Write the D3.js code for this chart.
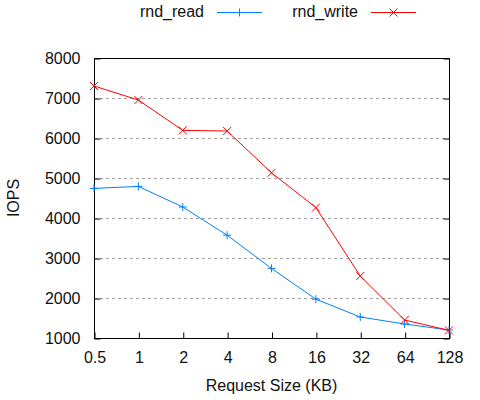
<!DOCTYPE html>
<html>
<head>
<meta charset="utf-8">
<script src="https://cdn.jsdelivr.net/npm/d3@7"></script>
<style>
  body { margin: 0; background: #fff; }
  svg { font-family: "Liberation Sans", Arial, sans-serif; }
</style>
</head>
<body>
<svg id="chart" width="480" height="400"></svg>
<script>
// request sizes (KB) and IOPS
const sizes = ["0.5", "1", "2", "4", "8", "16", "32", "64", "128"]
const rndRead = [4740, 4790, 4275, 3570, 2740, 1970, 1525, 1350, 1200]
const rndWrite = [7300, 6950, 6190, 6175, 5130, 4260, 2550, 1450, 1190]
const yTicks = [1000, 2000, 3000, 4000, 5000, 6000, 7000, 8000]

const width = 480, height = 400
const margin = {top: 58, right: 31, bottom: 62, left: 94}
const fontSize = 16

const svg = d3.select('#chart')

const x = d3.scalePoint()
    .domain(sizes)
    .range([margin.left, width - margin.right])

const y = d3.scaleLinear()
    .domain([1000, 8000])
    .range([height - margin.bottom, margin.top])

// grid
svg.append('g')
    .selectAll('line')
    .data(yTicks.slice(1, -1))
    .join('line')
    .attr('x1', margin.left)
    .attr('x2', width - margin.right)
    .attr('y1', d => y(d) + 0.5)
    .attr('y2', d => y(d) + 0.5)
    .attr('stroke', '#a0a0a0')
    .attr('stroke-dasharray', '3,3')

// axes, ticks pointing inward like gnuplot
const yLeft = svg.append('g')
    .attr('transform', `translate(${margin.left + 0.5},0.5)`)
    .call(d3.axisLeft(y).tickValues(yTicks).tickFormat(d3.format('d'))
        .tickSizeInner(-6).tickSizeOuter(0).tickPadding(14))
const yRight = svg.append('g')
    .attr('transform', `translate(${width - margin.right + 0.5},0.5)`)
    .call(d3.axisRight(y).tickValues(yTicks).tickSizeInner(-6).tickSizeOuter(0).tickFormat(''))
const xBottom = svg.append('g')
    .attr('transform', `translate(0.5,${height - margin.bottom + 0.5})`)
    .call(d3.axisBottom(x).tickSizeInner(-6).tickSizeOuter(0))

for (const g of [yLeft, yRight, xBottom]) {
    g.selectAll('.domain').remove()
    g.selectAll('line').attr('stroke', '#000')
    g.selectAll('text').attr('font-size', fontSize).attr('fill', '#111')
        .attr('font-family', '"Liberation Sans", Arial, sans-serif')
}
xBottom.selectAll('text').attr('y', 24).attr('dy', 0)

// frame
svg.append('rect')
    .attr('x', margin.left + 0.5)
    .attr('y', margin.top + 0.5)
    .attr('width', width - margin.left - margin.right)
    .attr('height', height - margin.top - margin.bottom)
    .attr('fill', 'none')
    .attr('stroke', '#000')

// axis titles
svg.append('text')
    .attr('x', (margin.left + width - margin.right) / 2)
    .attr('y', 391)
    .attr('text-anchor', 'middle')
    .attr('font-size', fontSize)
    .attr('fill', '#111')
    .text('Request Size (KB)')

svg.append('text')
    .attr('transform', `translate(19,${(margin.top + height - margin.bottom) / 2}) rotate(-90)`)
    .attr('text-anchor', 'middle')
    .attr('font-size', fontSize)
    .attr('fill', '#111')
    .text('IOPS')

const series = [
    {name: 'rnd_read', values: rndRead, color: '#0080ff', mark: 'plus', lx: 217},
    {name: 'rnd_write', values: rndWrite, color: '#ff0000', mark: 'cross', lx: 371}
]

const line = d3.line()
    .x((d, i) => x(sizes[i]))
    .y(d => y(d))

function marker(mark, s) {
    if (mark == 'plus') return `M${-s},0H${s}M0,${-s}V${s}`
    return `M${-s},${-s}L${s},${s}M${-s},${s}L${s},${-s}`
}

series.forEach(s => {
    svg.append('path')
        .datum(s.values)
        .attr('d', line)
        .attr('fill', 'none')
        .attr('stroke', s.color)
        .attr('stroke-width', 1)

    svg.append('g')
        .selectAll('path')
        .data(s.values)
        .join('path')
        .attr('transform', (d, i) => `translate(${x(sizes[i])},${y(d)})`)
        .attr('d', marker(s.mark, 4))
        .attr('stroke', s.color)
        .attr('fill', 'none')

    // legend
    const leg = svg.append('g')
    leg.append('text')
        .attr('x', s.lx - 13)
        .attr('y', 17)
        .attr('text-anchor', 'end')
        .attr('font-size', fontSize)
        .attr('fill', '#111')
        .text(s.name)
    leg.append('line')
        .attr('x1', s.lx).attr('x2', s.lx + 45)
        .attr('y1', 12.5).attr('y2', 12.5)
        .attr('stroke', s.color)
    leg.append('path')
        .attr('transform', `translate(${s.lx + 22.5},12.5)`)
        .attr('d', marker(s.mark, 4))
        .attr('stroke', s.color)
})
</script>
</body>
</html>
